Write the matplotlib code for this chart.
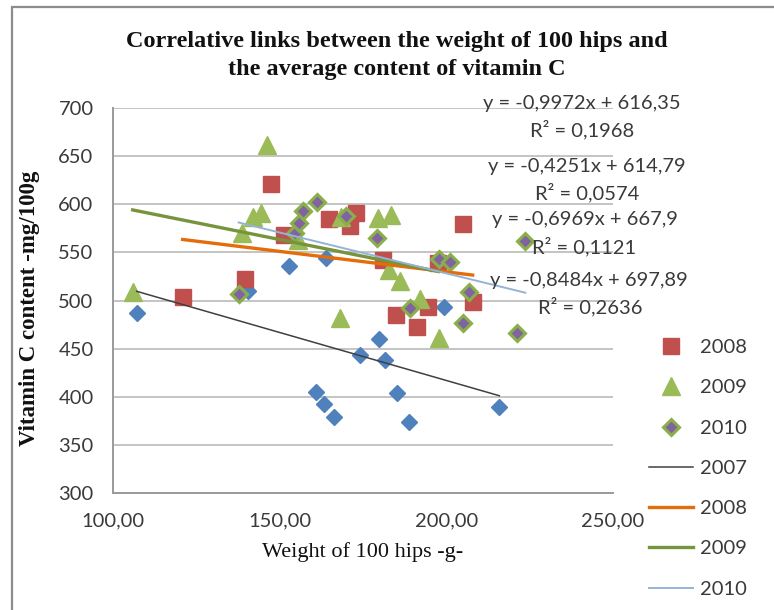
import matplotlib
matplotlib.use("Agg")
import matplotlib.pyplot as plt
from matplotlib.patches import Rectangle
import numpy as np

# ---- data -------------------------------------------------------------
x2007 = [107.1, 140.5, 152.7, 161.0, 163.2, 163.8, 166.3, 174.0, 179.7, 181.7, 185.1, 188.7, 199.2, 215.9]
y2007 = [487.3, 510.2, 535.8, 405.0, 392.5, 544.5, 379.0, 443.4, 459.7, 438.2, 403.6, 374.1, 493.6, 389.0]

x2008 = [120.9, 139.7, 147.3, 151.2, 164.9, 171.2, 172.8, 180.9, 184.9, 191.1, 194.4, 197.4, 204.9, 207.9]
y2008 = [504.0, 522.0, 620.7, 568.0, 584.5, 577.4, 591.2, 542.0, 484.9, 472.8, 492.9, 538.6, 579.2, 498.8]

x2009 = [105.9, 138.8, 142.0, 144.3, 146.3, 155.5, 168.0, 168.5, 179.4, 182.7, 183.4, 186.1, 192.1, 197.7]
y2009 = [509.2, 570.5, 587.0, 590.6, 661.6, 563.0, 481.5, 587.0, 585.4, 531.7, 588.8, 520.6, 501.2, 460.7]

x2010 = [137.7, 154.7, 155.8, 157.0, 161.2, 169.8, 179.1, 189.1, 197.7, 201.1, 204.9, 206.9, 221.3, 223.7]
y2010 = [506.4, 569.8, 580.8, 593.3, 602.7, 587.8, 564.6, 491.9, 542.8, 540.3, 476.9, 509.1, 466.6, 562.1]

# linear trend coefficients (slope, intercept, R^2) per year
trend_years = ["2007", "2008", "2009", "2010"]
slopes = [-0.9972, -0.4251, -0.6969, -0.8484]
intercepts = [616.35, 614.79, 667.9, 697.89]
r_squared = [0.1968, 0.0574, 0.1121, 0.2636]
eq_texts = ["y = -0,9972x + 616,35", "y = -0,4251x + 614,79",
            "y = -0,6969x + 667,9", "y = -0,8484x + 697,89"]
r2_texts = ["R² = 0,1968", "R² = 0,0574", "R² = 0,1121", "R² = 0,2636"]

x_ticks = [100, 150, 200, 250]
x_tick_labels = ["100,00", "150,00", "200,00", "250,00"]
y_ticks = [300, 350, 400, 450, 500, 550, 600, 650, 700]

# ---- figure -----------------------------------------------------------
W, H = 774, 610
fig = plt.figure(figsize=(W / 100, H / 100), dpi=100)
fig.patch.set_facecolor("white")


def fx(px):
    return px / W


def fy(py):
    return 1 - py / H


# chart frame
fig.add_artist(Rectangle((fx(12), fy(H + 20)), fx(W + 20), (H + 13) / H,
                         transform=fig.transFigure, fill=False,
                         edgecolor="#8c8c8c", lw=1.6))

ax = fig.add_axes([fx(113), fy(493), (613 - 113) / W, (493 - 108) / H])
ax.set_xlim(100, 250)
ax.set_ylim(300, 700)

tick_font = dict(family="Lato", size=14.5, color="#3a3a3a")

ax.set_xticks(x_ticks)
ax.set_xticklabels(x_tick_labels, **tick_font)
ax.set_yticks(y_ticks)
ax.set_yticklabels([str(v) for v in y_ticks], **tick_font)
ax.tick_params(axis="both", length=0)
ax.tick_params(axis="x", pad=14)
ax.tick_params(axis="y", pad=14)

ax.grid(axis="y", color="#c4c4c4", lw=1.4)
ax.set_axisbelow(True)
for side in ("top", "right"):
    ax.spines[side].set_visible(False)
for side in ("left", "bottom"):
    ax.spines[side].set_color("#9a9a9a")
    ax.spines[side].set_linewidth(1.4)

# scatter series
ax.plot(x2007, y2007, ls="none", marker="D", ms=8.6, mfc="#4F81BD",
        mec="#4F81BD", zorder=3)
h08, = ax.plot(x2008, y2008, ls="none", marker="s", ms=11.5, mfc="#C0504D",
               mec="#C0504D", zorder=3)
h09, = ax.plot(x2009, y2009, ls="none", marker="^", ms=12.5, mfc="#9BBB59",
               mec="#9BBB59", zorder=3)
h10, = ax.plot(x2010, y2010, ls="none", marker="D", ms=8.6, mfc="#8064A2",
               mec="#8AAE4A", mew=2.2, zorder=3)

# trend lines over each series' x range
series_x = [x2007, x2008, x2009, x2010]
trend_colors = ["#404040", "#E46C0A", "#77933C", "#95B3D7"]
trend_widths = [1.1, 2.4, 2.4, 1.4]
trend_handles = []
for xs, k, b, c, w in zip(series_x, slopes, intercepts, trend_colors, trend_widths):
    xr = np.array([min(xs), max(xs)])
    ln, = ax.plot(xr, k * xr + b, color=c, lw=w, zorder=4)
    trend_handles.append(ln)

# trend equations
eq_pos = [(582, 103), (587, 167), (585, 220), (589, 280)]
r2_pos = [(582, 130), (587, 193), (584, 247), (590, 307)]
for t, (px, py) in zip(eq_texts, eq_pos):
    fig.text(fx(px), fy(py), t, ha="center", va="center", **tick_font)
for t, (px, py) in zip(r2_texts, r2_pos):
    fig.text(fx(px), fy(py), t, ha="center", va="center", **tick_font)

# titles
title_font = dict(family="Liberation Serif", weight="bold", color="#111111")
fig.text(fx(397), fy(41), "Correlative links between the weight of 100 hips and",
         ha="center", va="center", size=17.5, **title_font)
fig.text(fx(397), fy(69), "the average content of vitamin C",
         ha="center", va="center", size=17.5, **title_font)
fig.text(fx(30), fy(308), "Vitamin C content -mg/100g", rotation=90,
         ha="center", va="center", size=16.5, **title_font)
fig.text(fx(363), fy(552), "Weight of 100 hips -g-", ha="center", va="center",
         family="Liberation Serif", size=16, color="#111111")

# legend
handles = [h08, h09, h10] + trend_handles
labels = ["2008", "2009", "2010"] + trend_years
leg = fig.legend(handles, labels, loc="upper left",
                 bbox_to_anchor=(fx(649), fy(339)), frameon=False,
                 prop=dict(family="Lato", size=14.5), labelcolor="#3a3a3a",
                 handlelength=2.2, handletextpad=0.35, labelspacing=1.15,
                 borderpad=0, borderaxespad=0)

fig.savefig("out.png", dpi=100)
